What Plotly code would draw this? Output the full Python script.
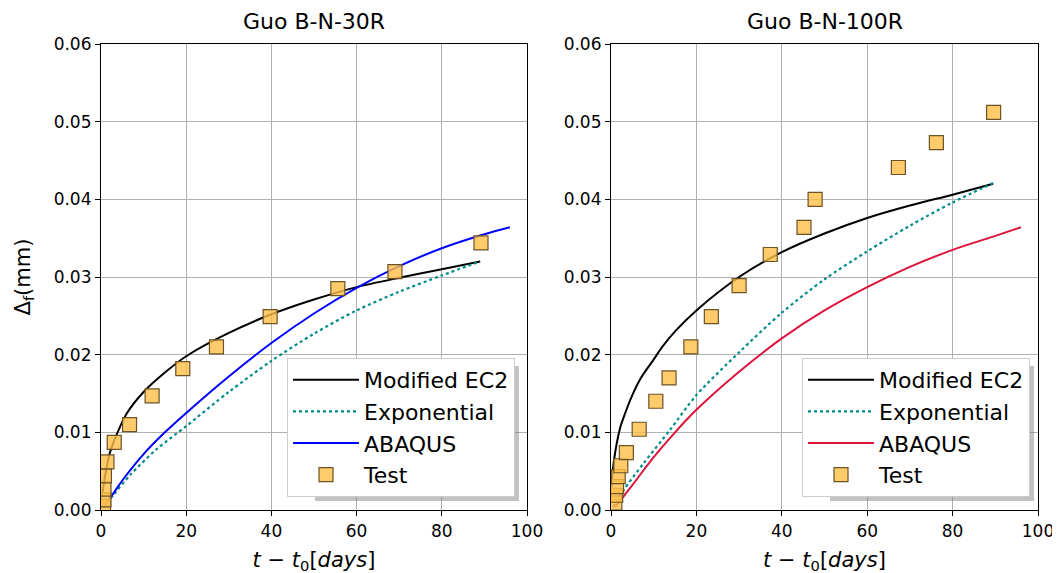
import plotly.graph_objects as go

# ---------------- data ----------------
# Left panel: Guo B-N-30R
l_ec2_x = [0.2, 1, 2, 3, 6, 10, 15, 20, 30, 40, 50, 60, 70, 80, 89]
l_ec2_y = [0.0017, 0.0045, 0.0072, 0.0088, 0.0124, 0.0152, 0.0177, 0.0198, 0.0228, 0.0252, 0.0271, 0.0287, 0.0299, 0.0310, 0.0320]
l_exp_x = [0.5, 3, 7, 13, 20, 30, 40, 50, 60, 70, 80, 89]
l_exp_y = [0.0003, 0.0020, 0.0046, 0.0078, 0.0108, 0.0152, 0.0192, 0.0227, 0.0257, 0.0281, 0.0302, 0.0320]
l_abq_x = [0.5, 3, 5, 10, 15, 20, 30, 40, 50, 60, 70, 80, 90, 96]
l_abq_y = [0.0004, 0.0022, 0.0038, 0.0072, 0.0100, 0.0125, 0.0172, 0.0215, 0.0253, 0.0286, 0.0314, 0.0337, 0.0355, 0.0364]
l_test_x = [0.6, 0.7, 0.7, 0.8, 1.4, 3.1, 6.7, 12.0, 19.2, 27.1, 39.7, 55.6, 69.0, 89.2]
l_test_y = [0.0005, 0.0013, 0.0027, 0.0044, 0.0062, 0.0087, 0.0110, 0.0147, 0.0182, 0.0210, 0.0249, 0.0285, 0.0307, 0.0344]

# Right panel: Guo B-N-100R
r_ec2_x = [0.1, 0.7, 2.1, 3, 5, 7, 9.9, 12, 15, 20, 30, 40, 50, 60, 70, 80, 89.5]
r_ec2_y = [0.0030, 0.0064, 0.0105, 0.0120, 0.0148, 0.0170, 0.0193, 0.0210, 0.0230, 0.0257, 0.0300, 0.0332, 0.0356, 0.0376, 0.0392, 0.0406, 0.0420]
r_exp_x = [0.5, 3, 7.6, 13.8, 20, 30, 40, 50, 60, 70, 80, 89.5]
r_exp_y = [0.0004, 0.0026, 0.0060, 0.0103, 0.0148, 0.0203, 0.0254, 0.0297, 0.0333, 0.0366, 0.0396, 0.0421]
r_abq_x = [1, 3, 5, 10, 15, 20, 30, 40, 50, 60, 70, 80, 90, 96]
r_abq_y = [0.0004, 0.0018, 0.0032, 0.0068, 0.0100, 0.0129, 0.0178, 0.0221, 0.0257, 0.0287, 0.0313, 0.0335, 0.0353, 0.0364]
r_test_x = [0.9, 1.1, 1.3, 1.7, 2.3, 3.6, 6.6, 10.5, 13.6, 18.7, 23.5, 30.0, 37.3, 45.2, 47.8, 67.3, 76.2, 89.6]
r_test_y = [0.0009, 0.0019, 0.0030, 0.0043, 0.0057, 0.0074, 0.0104, 0.0140, 0.0170, 0.0210, 0.0249, 0.0289, 0.0329, 0.0364, 0.0400, 0.0441, 0.0473, 0.0512]

titles = ["Guo B-N-30R", "Guo B-N-100R"]
x_ticks = [0, 20, 40, 60, 80, 100]
y_ticks = [0.00, 0.01, 0.02, 0.03, 0.04, 0.05, 0.06]

FONT = "DejaVu Sans"
W, H = 1060, 573
OFF = 8  # default page body margin

fig = go.Figure()

def add_panel(xa, ya, leg, ec2x, ec2y, expx, expy, abqx, abqy, abqcol, tx, ty):
    fig.add_trace(go.Scatter(x=ec2x, y=ec2y, mode="lines", name="Modified EC2",
                             line=dict(color="black", width=2, shape="spline", smoothing=0.8),
                             xaxis=xa, yaxis=ya, legend=leg))
    fig.add_trace(go.Scatter(x=expx, y=expy, mode="lines", name="Exponential",
                             line=dict(color="#008b8b", width=2.2, dash="dot", shape="spline", smoothing=0.8),
                             xaxis=xa, yaxis=ya, legend=leg))
    fig.add_trace(go.Scatter(x=abqx, y=abqy, mode="lines", name="ABAQUS",
                             line=dict(color=abqcol, width=2, shape="spline", smoothing=0.8),
                             xaxis=xa, yaxis=ya, legend=leg))
    fig.add_trace(go.Scatter(x=tx, y=ty, mode="markers", name="Test",
                             marker=dict(symbol="square", size=14, color="rgba(255,190,70,0.8)",
                                         line=dict(color="#6b5326", width=1.2)),
                             xaxis=xa, yaxis=ya, legend=leg))

add_panel("x", "y", "legend", l_ec2_x, l_ec2_y, l_exp_x, l_exp_y, l_abq_x, l_abq_y, "#0000ff", l_test_x, l_test_y)
add_panel("x2", "y2", "legend2", r_ec2_x, r_ec2_y, r_exp_x, r_exp_y, r_abq_x, r_abq_y, "#dc143c", r_test_x, r_test_y)

# pixel geometry (screen pixels of the reference)
L_x0, L_x1 = 101, 527
R_x0, R_x1 = 611, 1038
Y_top, Y_bot = 44, 510

def px(x):
    return (x - OFF) / W

def py(y):
    return 1 - (y - OFF) / H

axis_common = dict(showline=True, mirror=True, linecolor="black", linewidth=1.2,
                   ticks="outside", ticklen=5, tickwidth=1.2, tickcolor="black",
                   showgrid=True, gridcolor="#b0b0b0", gridwidth=1, zeroline=False,
                   automargin=False,
                   tickfont=dict(family=FONT, size=17, color="black"))

xaxis_common = dict(axis_common, range=[0, 100], tickvals=x_ticks,
                    title=dict(text="<i>t</i> − <i>t</i><sub>0</sub>[<i>days</i>]",
                               font=dict(family=FONT, size=21, color="black"), standoff=12))
yaxis_common = dict(axis_common, range=[0, 0.06], tickvals=y_ticks, tickformat=".2f")

leg_common = dict(xanchor="right", yanchor="bottom", itemwidth=66,
                  bgcolor="white", bordercolor="#cccccc", borderwidth=1,
                  font=dict(family=FONT, size=22, color="black"), tracegroupgap=0)

LEG_R = [515, 1030]
fig.update_layout(
    width=W, height=H,
    paper_bgcolor="white", plot_bgcolor="white",
    margin=dict(l=0, r=0, t=0, b=0),
    font=dict(family=FONT, color="black"),
    xaxis=dict(xaxis_common, domain=[px(L_x0), px(L_x1)], anchor="y"),
    yaxis=dict(yaxis_common, domain=[py(Y_bot), py(Y_top)], anchor="x",
               title=dict(text="Δ<sub>f</sub>(mm)", font=dict(family=FONT, size=21, color="black"), standoff=17)),
    xaxis2=dict(xaxis_common, domain=[px(R_x0), px(R_x1)], anchor="y2"),
    yaxis2=dict(yaxis_common, domain=[py(Y_bot), py(Y_top)], anchor="x2"),
    legend=dict(leg_common, x=px(LEG_R[0]), y=py(497)),
    legend2=dict(leg_common, x=px(LEG_R[1]), y=py(497)),
)

# soft shadow behind each legend box (matplotlib shadow=True look)
for xr in LEG_R:
    fig.add_shape(type="rect", xref="paper", yref="paper", layer="above",
                  x0=px(xr - 200), x1=px(xr + 4), y0=py(497 + 4), y1=py(366),
                  line=dict(width=0), fillcolor="rgba(120,120,120,0.45)")

for cx, t in [((L_x0 + L_x1) / 2, titles[0]), ((R_x0 + R_x1) / 2, titles[1])]:
    fig.add_annotation(x=px(cx), y=py(22), xref="paper", yref="paper", text=t,
                       showarrow=False, xanchor="center", yanchor="middle",
                       font=dict(family=FONT, size=22, color="black"))

fig.write_html("out.html")
